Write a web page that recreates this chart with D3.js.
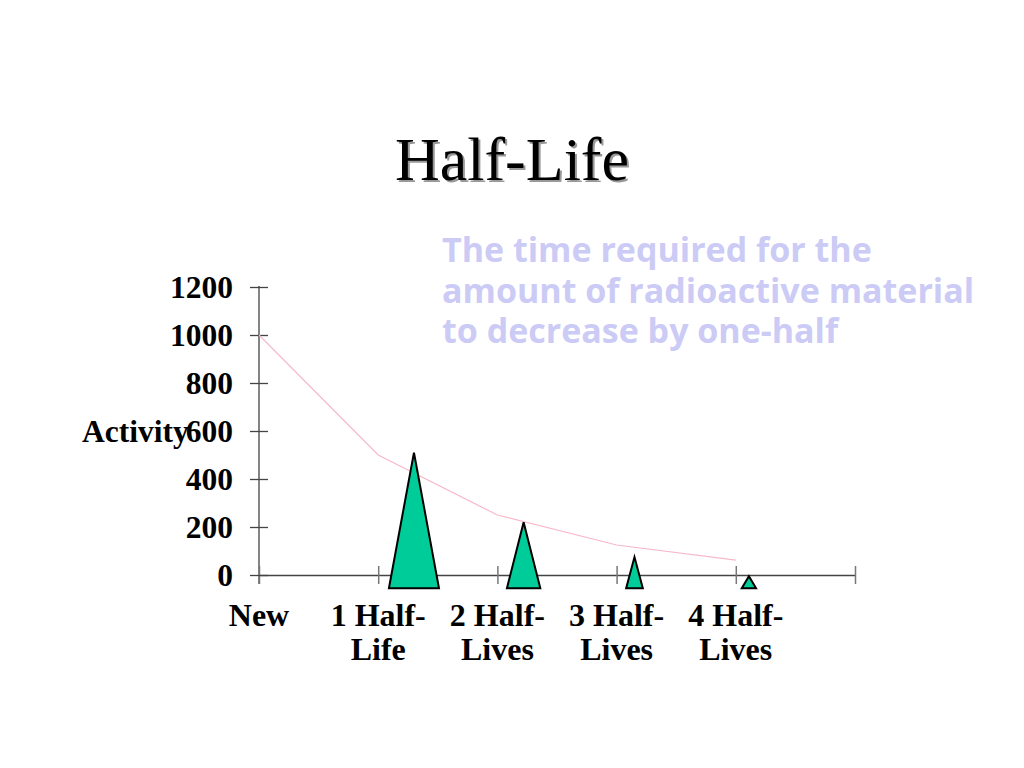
<!DOCTYPE html>
<html>
<head>
<meta charset="utf-8">
<script src="https://cdn.jsdelivr.net/npm/d3@7"></script>
<style>
  body { margin: 0; background: #fff; }
  svg { display: block; }
</style>
</head>
<body>
<div id="chart"></div>
<script>
// categories along the x axis (point positions 0..4, axis runs to 5)
var categories = [["New"], ["1 Half-", "Life"], ["2 Half-", "Lives"], ["3 Half-", "Lives"], ["4 Half-", "Lives"]];
// activity curve
var activity = [1000, 500, 250, 125, 62];
var yTicks = [0, 200, 400, 600, 800, 1000, 1200];
// triangle markers: left/right/apex in category units, height in activity units
var triLeft = [1.09, 2.08, 3.08, 4.05];
var triRight = [1.51, 2.36, 3.22, 4.17];
var triApex = [1.30, 2.22, 3.15, 4.11];
var triTop = [510, 220, 75, -5];
var triBase = -55;
var blurb = ["The time required for the", "amount of radioactive material", "to decrease by one-half"];

var W = 1024, H = 768;
var svg = d3.select("#chart").append("svg")
    .attr("width", W)
    .attr("height", H);

var xScale = d3.scaleLinear().domain([0, 5]).range([259, 855]);
var yScale = d3.scaleLinear().domain([0, 1200]).range([575, 287]);

// title with drop shadow
svg.append("text")
    .attr("x", 514).attr("y", 182)
    .attr("text-anchor", "middle")
    .style("font-family", "Liberation Serif")
    .style("font-size", "62px")
    .attr("fill", "#999")
    .text("Half-Life");
svg.append("text")
    .attr("x", 512).attr("y", 180)
    .attr("text-anchor", "middle")
    .style("font-family", "Liberation Serif")
    .style("font-size", "62px")
    .attr("fill", "#000")
    .text("Half-Life");

// definition text
svg.append("g").selectAll("text")
    .data(blurb)
    .join("text")
    .attr("x", 442)
    .attr("y", (d, i) => 262 + i * 40.5)
    .style("font-family", "Open Sans")
    .style("font-weight", "bold")
    .style("font-size", "34px")
    .attr("fill", "#cbcbf5")
    .text(d => d);

// x axis
var xAxis = d3.axisBottom(xScale)
    .tickValues(d3.range(0, 6))
    .tickSize(0)
    .tickFormat("");
var gx = svg.append("g")
    .attr("transform", "translate(0," + yScale(0) + ")")
    .call(xAxis);
gx.select(".domain").attr("stroke", "#444").attr("stroke-width", 1.3);
gx.selectAll(".tick line")
    .attr("y1", -9).attr("y2", 9)
    .attr("stroke", "#777").attr("stroke-width", 1.5);

// y axis
var yAxis = d3.axisLeft(yScale)
    .tickValues(yTicks)
    .tickSize(0)
    .tickFormat("");
var gy = svg.append("g")
    .attr("transform", "translate(" + xScale(0) + ",0)")
    .call(yAxis);
gy.select(".domain").attr("stroke", "#777").attr("stroke-width", 1.8)
    .attr("d", "M0," + (yScale(1200) - 1) + "V" + (yScale(0) + 9));
gy.selectAll(".tick line")
    .attr("x1", -9).attr("x2", 9)
    .attr("stroke", "#444").attr("stroke-width", 1.3);

var labelSize = "31.5px";

// y tick labels
svg.append("g").selectAll("text")
    .data(yTicks)
    .join("text")
    .attr("x", xScale(0) - 26)
    .attr("y", d => yScale(d))
    .attr("dy", "0.34em")
    .attr("text-anchor", "end")
    .style("font-family", "Liberation Serif")
    .style("font-weight", "bold")
    .style("font-size", labelSize)
    .text(d => d);

svg.append("text")
    .attr("x", 82)
    .attr("y", yScale(600))
    .attr("dy", "0.34em")
    .style("font-family", "Liberation Serif")
    .style("font-weight", "bold")
    .style("font-size", labelSize)
    .text("Activity");

// x category labels
var xl = svg.append("g").selectAll("text")
    .data(categories)
    .join("text")
    .attr("x", (d, i) => xScale(i))
    .attr("y", 626)
    .attr("text-anchor", "middle")
    .style("font-family", "Liberation Serif")
    .style("font-weight", "bold")
    .style("font-size", "32px");
xl.selectAll("tspan")
    .data(d => d)
    .join("tspan")
    .attr("x", function() { return d3.select(this.parentNode).attr("x"); })
    .attr("dy", (d, i) => i === 0 ? 0 : 34)
    .text(d => d);

// activity line
var line = d3.line()
    .x((d, i) => xScale(i))
    .y(d => yScale(d));
svg.append("path")
    .datum(activity)
    .attr("fill", "none")
    .attr("stroke", "#f6b9c9")
    .attr("stroke-width", 1.2)
    .attr("d", line);

// triangles
svg.append("g").selectAll("path")
    .data(triTop)
    .join("path")
    .attr("d", (d, i) => "M" + xScale(triLeft[i]) + "," + yScale(triBase)
        + "L" + xScale(triApex[i]) + "," + yScale(d)
        + "L" + xScale(triRight[i]) + "," + yScale(triBase) + "Z")
    .attr("fill", "#00cc99")
    .attr("stroke", "#000")
    .attr("stroke-width", 2)
    .attr("stroke-linejoin", "miter");
</script>
</body>
</html>
